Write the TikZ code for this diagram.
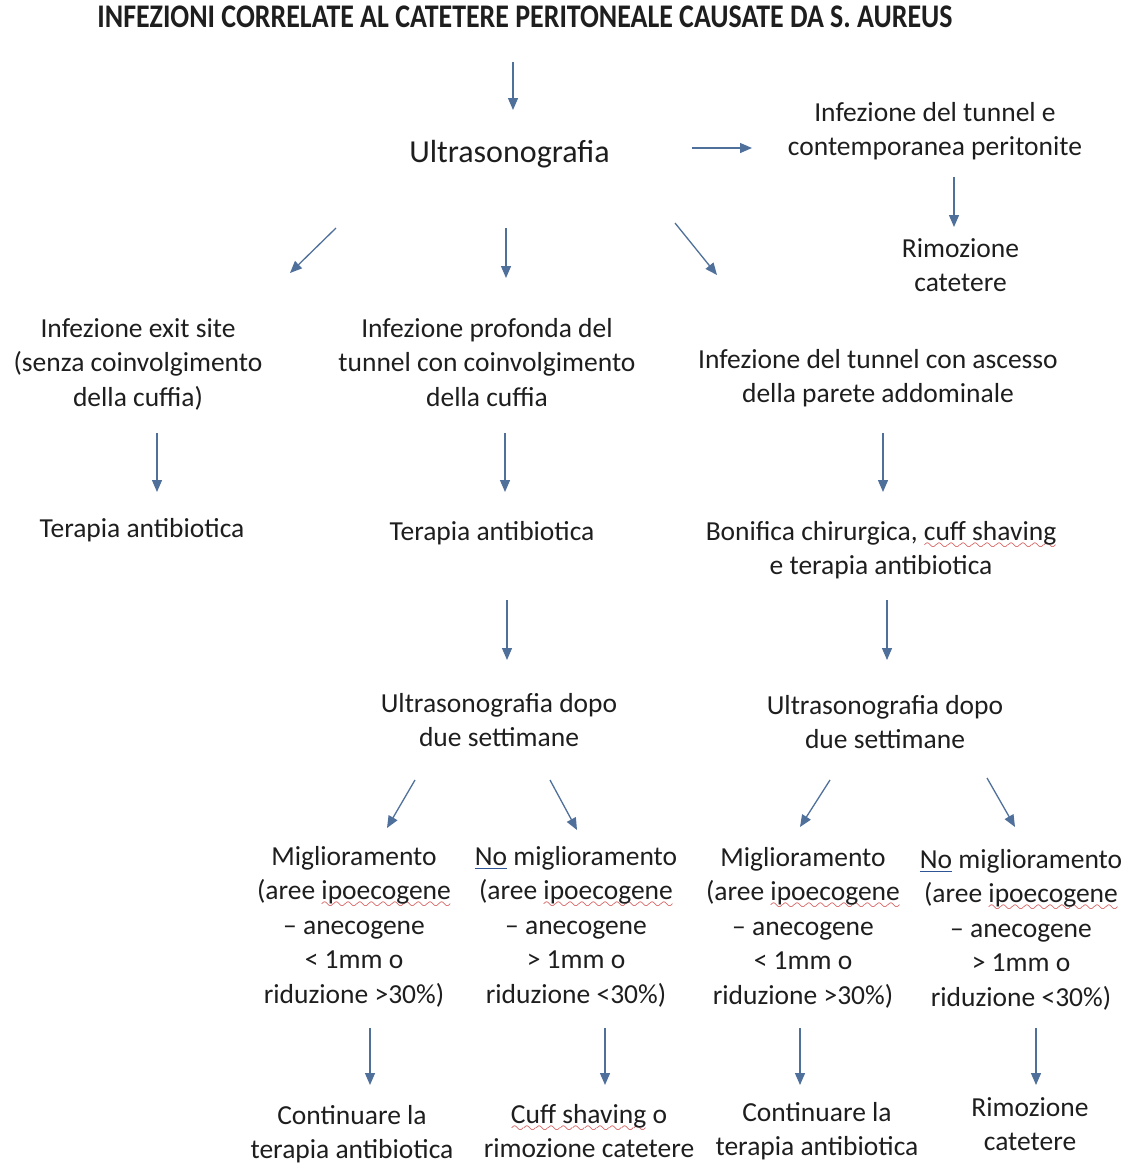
\documentclass[tikz,border=0pt]{standalone}
\usepackage{fontspec}
\setmainfont{Carlito}
\usepackage{graphicx}
\usetikzlibrary{arrows.meta}
\definecolor{txt}{HTML}{1E1E1E}
\definecolor{arrowc}{HTML}{50709C}
\definecolor{spellred}{HTML}{D04040}
\definecolor{nolink}{HTML}{2F5597}
\font\wavyfnt=lasy10 at 17pt
\newcommand\spell[1]{\setbox0\hbox{#1}\rlap{\textcolor{spellred}{\lower9pt\hbox to\wd0{\xleaders\hbox{\wavyfnt\char58}\hfill}}}\box0\relax}
\newcommand\noline[1]{\setbox0\hbox{#1}\rlap{\textcolor{nolink}{\rule[-4pt]{\wd0}{1.4pt}}}\box0\relax}
\newcommand\ml[1]{\begin{tabular}[t]{@{}c@{}}#1\end{tabular}}
\tikzset{
  lbl/.style={anchor=base, inner sep=0pt, text=txt, font=\fontsize{27.5}{34.5}\selectfont},
  biglbl/.style={anchor=base, inner sep=0pt, text=txt, font=\fontsize{32}{38}\selectfont},
  titlelbl/.style={anchor=base, inner sep=0pt, text=txt, font=\fontsize{33}{36}\selectfont\bfseries},
  arr/.style={draw=arrowc, line width=1.3pt, -{Triangle[length=12pt,width=10pt]}}
}
\begin{document}
\begin{tikzpicture}[x=1pt,y=-1pt]
\useasboundingbox[fill=white] (0,0) rectangle (1133,1164);

% texts
\node[titlelbl] (title) at (525,28) {\resizebox{855pt}{\height}{INFEZIONI CORRELATE AL CATETERE PERITONEALE CAUSATE DA S. AUREUS}};
\node[biglbl] (us) at (509.5,162) {Ultrasonografia};
\node[lbl] (tp) at (935,121) {\ml{Infezione del tunnel e\\contemporanea peritonite}};
\node[lbl] (rim1) at (960.5,257) {\ml{Rimozione\\catetere}};
\node[lbl] (exit) at (138,337) {\ml{Infezione exit site\\(senza coinvolgimento\\della cuffia)}};
\node[lbl] (deep) at (487,337) {\ml{Infezione profonda del\\tunnel con coinvolgimento\\della cuffia}};
\node[lbl] (absc) at (878,368) {\ml{Infezione del tunnel con ascesso\\della parete addominale}};
\node[lbl] (ta1) at (142,537) {Terapia antibiotica};
\node[lbl] (ta2) at (492,540) {Terapia antibiotica};
\node[lbl] (bon) at (881,540) {\ml{Bonifica chirurgica, \spell{cuff shaving}\\e terapia antibiotica}};
\node[lbl] (usd1) at (499,712) {\ml{Ultrasonografia dopo\\due settimane}};
\node[lbl] (usd2) at (885,714) {\ml{Ultrasonografia dopo\\due settimane}};
\node[lbl] (m1) at (354,865) {\ml{Miglioramento\\(aree \spell{ipoecogene}\\-- anecogene\\< 1mm o\\riduzione >30\%)}};
\node[lbl] (m2) at (576,865) {\ml{\noline{No} miglioramento\\(aree \spell{ipoecogene}\\-- anecogene\\> 1mm o\\riduzione <30\%)}};
\node[lbl] (m3) at (803,866) {\ml{Miglioramento\\(aree \spell{ipoecogene}\\-- anecogene\\< 1mm o\\riduzione >30\%)}};
\node[lbl] (m4) at (1021,868) {\ml{\noline{No} miglioramento\\(aree \spell{ipoecogene}\\-- anecogene\\> 1mm o\\riduzione <30\%)}};
\node[lbl] (c1) at (352,1124) {\ml{Continuare la\\terapia antibiotica}};
\node[lbl] (c2) at (589,1123) {\ml{\spell{Cuff shaving} o\\rimozione catetere}};
\node[lbl] (c3) at (817,1121) {\ml{Continuare la\\terapia antibiotica}};
\node[lbl] (r2) at (1030,1116) {\ml{Rimozione\\catetere}};

% arrow end points
\coordinate (a1s) at (513,62);   \coordinate (a1e) at (513,110);
\coordinate (a2s) at (692,148);  \coordinate (a2e) at (752,148);
\coordinate (a3s) at (954,177);  \coordinate (a3e) at (954,227);
\coordinate (a4s) at (336,228);  \coordinate (a4e) at (290,273);
\coordinate (a5s) at (506,228);  \coordinate (a5e) at (506,278);
\coordinate (a6s) at (675,223);  \coordinate (a6e) at (717,275);
\coordinate (a7s) at (157,433);  \coordinate (a7e) at (157,492);
\coordinate (a8s) at (505,433);  \coordinate (a8e) at (505,492);
\coordinate (a9s) at (883,433);  \coordinate (a9e) at (883,492);
\coordinate (a10s) at (507,600); \coordinate (a10e) at (507,660);
\coordinate (a11s) at (887,600); \coordinate (a11e) at (887,660);
\coordinate (a12s) at (415,780); \coordinate (a12e) at (387,828);
\coordinate (a13s) at (550,780); \coordinate (a13e) at (577,830);
\coordinate (a14s) at (830,780); \coordinate (a14e) at (800,827);
\coordinate (a15s) at (987,778); \coordinate (a15e) at (1015,827);
\coordinate (a16s) at (370,1028); \coordinate (a16e) at (370,1085);
\coordinate (a17s) at (605,1028); \coordinate (a17e) at (605,1085);
\coordinate (a18s) at (800,1028); \coordinate (a18e) at (800,1085);
\coordinate (a19s) at (1036,1028); \coordinate (a19e) at (1036,1085);

\foreach \i in {1,...,19} { \draw[arr] (a\i s) -- (a\i e); }
\end{tikzpicture}
\end{document}
